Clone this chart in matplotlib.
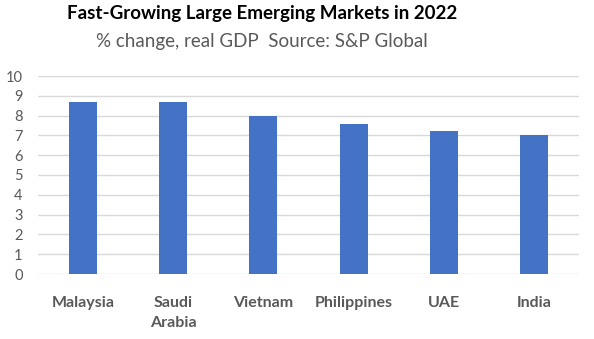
import matplotlib
matplotlib.use("Agg")
import matplotlib.pyplot as plt

categories = ["Malaysia", "Saudi\nArabia", "Vietnam", "Philippines", "UAE", "India"]
values = [8.7, 8.7, 8.0, 7.6, 7.2, 7.0]
yticks = [0, 1, 2, 3, 4, 5, 6, 7, 8, 9, 10]

plt.rcParams['font.family'] = ['Lato', 'DejaVu Sans']

fig = plt.figure(figsize=(5.94, 3.39), dpi=100)
ax = fig.add_axes([38/594, 1-274/339, (579-38)/594, (274-76)/339])
x = list(range(len(categories)))
ax.bar(x, values, width=0.31, color='#4472C4', zorder=3)
ax.set_xlim(-0.5, len(categories)-0.5)
ax.set_ylim(0, 10)
ax.set_yticks(yticks)
ax.set_yticklabels([str(t) for t in yticks], fontsize=10.5, color='#595959')
ax.set_xticks(x)
ax.set_xticklabels(categories, fontsize=11.5, fontweight='bold', color='#595959', linespacing=1.55)
ax.grid(axis='y', color='#D9D9D9', linewidth=1, zorder=0)
for s in ax.spines.values():
    s.set_visible(False)
ax.tick_params(axis='both', length=0)
ax.tick_params(axis='x', pad=16)
ax.tick_params(axis='y', pad=11)

fig.text(262/594, 1-14/339, "Fast-Growing Large Emerging Markets in 2022", ha='center', va='center',
         fontsize=13.5, fontweight='bold', color='black')
fig.text(262/594, 1-42/339, "% change, real GDP  Source: S&P Global", ha='center', va='center',
         fontsize=13.5, color='#595959')
fig.savefig("out.png", dpi=100, facecolor='white')
